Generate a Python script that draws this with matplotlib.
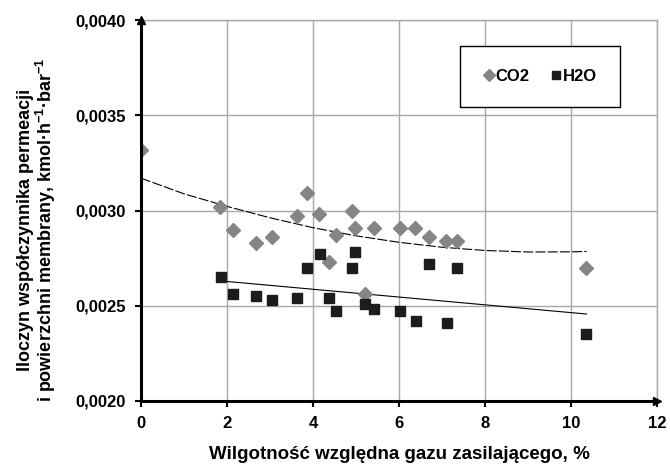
import matplotlib
matplotlib.use("Agg")
import matplotlib.pyplot as plt
from matplotlib.ticker import FuncFormatter, MultipleLocator

plt.rcParams['font.family'] = ['Liberation Sans Narrow', 'Liberation Sans', 'DejaVu Sans']
plt.rcParams['font.weight'] = 'bold'
plt.rcParams['mathtext.fontset'] = 'custom'
plt.rcParams['mathtext.default'] = 'bf'
plt.rcParams['mathtext.bf'] = 'Liberation Sans:bold'

# CO2 points (relative humidity %, permeance product)
co2_x = [0.0, 1.84, 2.14, 2.67, 3.04, 3.64, 3.86, 4.15, 4.37, 4.54, 4.90, 4.98,
         5.21, 5.41, 6.03, 6.38, 6.70, 7.10, 7.36, 10.36]
co2_y = [0.00332, 0.00302, 0.00290, 0.00283, 0.00286, 0.00297, 0.00309, 0.00298,
         0.00273, 0.00287, 0.00300, 0.00291, 0.00256, 0.00291, 0.00291, 0.00291,
         0.00286, 0.00284, 0.00284, 0.00270]

# H2O points
h2o_x = [1.86, 2.14, 2.67, 3.04, 3.64, 3.87, 4.17, 4.37, 4.54, 4.90, 4.98,
         5.21, 5.43, 6.03, 6.40, 6.70, 7.12, 7.35, 10.36]
h2o_y = [0.00265, 0.00256, 0.00255, 0.00253, 0.00254, 0.00270, 0.00277, 0.00254,
         0.00247, 0.00270, 0.00278, 0.00251, 0.00248, 0.00247, 0.00242, 0.00272,
         0.00241, 0.00270, 0.00235]

# trend lines
co2_trend_x = [0, 1, 2, 3, 4, 5, 6, 7, 8, 9, 10, 10.36]
co2_trend_y = [0.003170, 0.003088, 0.003022, 0.002962, 0.002910, 0.002867,
               0.002833, 0.002807, 0.002790, 0.002782, 0.002783, 0.002785]
h2o_trend_x = [1.86, 10.36]
h2o_trend_y = [0.002630, 0.002456]

fig = plt.figure(figsize=(6.7, 4.66), dpi=100)
ax = fig.add_axes([0.2104, 0.140, 0.7702, 0.8164])

ax.plot(co2_trend_x, co2_trend_y, color='black', lw=0.8, ls=(0, (9, 2)), zorder=2)
ax.plot(h2o_trend_x, h2o_trend_y, color='black', lw=0.8, zorder=2)

ax.plot(co2_x, co2_y, ls='none', marker='D', ms=7.5, color='#858585',
        mec='#858585', label='CO2', zorder=3)
ax.plot(h2o_x, h2o_y, ls='none', marker='s', ms=7.5, color='#1c1c1c',
        mec='#1c1c1c', label='H2O', zorder=3)

ax.set_xlim(0, 12)
ax.set_ylim(0.0020, 0.0040)
ax.xaxis.set_major_locator(MultipleLocator(2))
ax.yaxis.set_major_locator(MultipleLocator(0.0005))
ax.yaxis.set_major_formatter(FuncFormatter(lambda v, p: f'{v:.4f}'.replace('.', ',')))
ax.grid(True, color='#a8a8a8', lw=1)
ax.set_axisbelow(True)

for s in ['top', 'right']:
    ax.spines[s].set_color('#a8a8a8')
    ax.spines[s].set_linewidth(1)
for s in ['left', 'bottom']:
    ax.spines[s].set_color('black')
    ax.spines[s].set_linewidth(2.2)
    ax.spines[s].set_zorder(4)

ax.plot(0, 1, marker='^', color='black', ms=6, transform=ax.transAxes, clip_on=False, zorder=5)
ax.plot(1, 0, marker='>', color='black', ms=6, transform=ax.transAxes, clip_on=False, zorder=5)

ax.tick_params(axis='both', direction='out', length=4, width=1.5, color='black',
               labelsize=12, pad=7)
for lab in ax.get_xticklabels() + ax.get_yticklabels():
    lab.set_fontweight('bold')

ax.set_xlabel('Wilgotność względna gazu zasilającego, %', fontsize=13.5,
              fontweight='bold', labelpad=11)
ax.set_ylabel('Iloczyn współczynnika permeacji\n'
              'i powierzchni membrany, kmol·h$^{-1}$·bar$^{-1}$',
              fontsize=13, fontweight='bold', linespacing=1.0)
ax.yaxis.set_label_coords(-0.160, 0.45)

leg = ax.legend(loc='upper right', bbox_to_anchor=(0.945, 0.955), ncol=2,
                frameon=True, fancybox=False, edgecolor='black', framealpha=1,
                fontsize=12, handlelength=0.6, handletextpad=0.1, columnspacing=1.3,
                borderpad=1.4, markerscale=0.75)
leg.get_frame().set_linewidth(1)
for t in leg.get_texts():
    t.set_fontweight('bold')

fig.savefig('out.png', dpi=100)
